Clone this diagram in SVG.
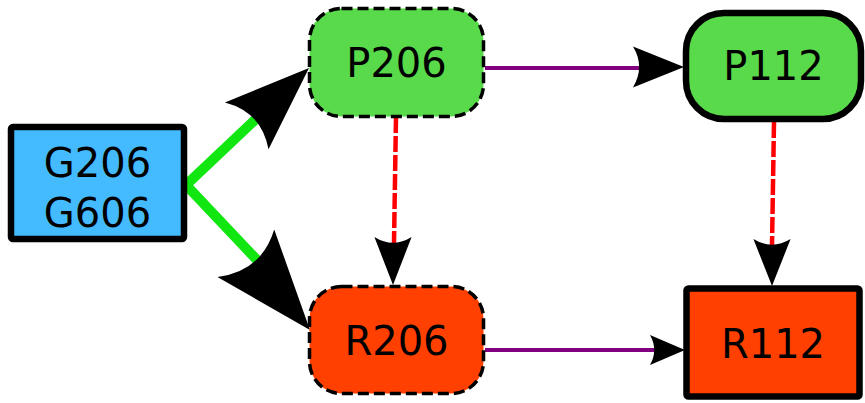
<svg xmlns="http://www.w3.org/2000/svg" xmlns:xlink="http://www.w3.org/1999/xlink" width="865" height="403" viewBox="0 0 865 403">
<style>
  .lbl { font-family: "DejaVu Sans", "Liberation Sans", sans-serif; font-size: 40px; fill: #000; text-anchor: middle; }
  .dashnode { stroke: #000; stroke-width: 3.5; stroke-dasharray: 11,5; }
  .solidnode { stroke: #000; stroke-width: 6.5; }
  .green { fill: #58da4a; }
  .red { fill: #ff4000; }
  .blue { fill: #45bbff; }
  .gline { stroke: #11e611; stroke-width: 10; fill: none; }
  .pline { stroke: #800080; stroke-width: 4; fill: none; }
  .rline { stroke: #ff0000; stroke-width: 4.5; fill: none; stroke-dasharray: 16,3; }
  .head { fill: #000; }
</style>
<defs>
  <path id="arrow" d="M0,0 L-50,-20 Q-38,0 -50,20 Z"/>
</defs>
<g id="connectors">
  <path class="gline" d="M256,119 L186,185 L257,260" stroke-linejoin="miter"/>
  <use xlink:href="#arrow" class="head" transform="translate(309,68) rotate(-42.9) scale(1.7,1.6)"/>
  <use xlink:href="#arrow" class="head" transform="translate(310,330) rotate(50.1) scale(2,1.85)"/>
  <path class="pline" d="M485,68 L640,68"/>
  <use xlink:href="#arrow" class="head" transform="translate(684,67) scale(1.02)"/>
  <path class="pline" d="M485,350 L658,350"/>
  <use xlink:href="#arrow" class="head" transform="translate(685,350) scale(0.7,0.75)"/>
  <path class="rline" d="M396,117 L394,243"/>
  <use xlink:href="#arrow" class="head" transform="translate(393,285) rotate(90) scale(0.96,0.93)"/>
  <path class="rline" d="M774,122 L772,246"/>
  <use xlink:href="#arrow" class="head" transform="translate(772,286) rotate(90) scale(0.94,0.93)"/>
</g>
<g id="G206_G606">
  <rect class="blue solidnode" x="11" y="127" width="173" height="112" rx="2" stroke-width="7"/>
  <text class="lbl" x="97.5" y="177">G206</text>
  <text class="lbl" x="97.5" y="227">G606</text>
</g>
<g id="P206">
  <rect class="green dashnode" x="309.5" y="8.5" width="174" height="108" rx="32"/>
  <text class="lbl" x="396.5" y="77">P206</text>
</g>
<g id="R206">
  <rect class="red dashnode" x="309.5" y="286.5" width="174" height="107" rx="32"/>
  <text class="lbl" x="396.5" y="355">R206</text>
</g>
<g id="P112">
  <rect class="green solidnode" x="686" y="13" width="175" height="106" rx="38"/>
  <text class="lbl" x="773.5" y="80">P112</text>
</g>
<g id="R112">
  <rect class="red solidnode" x="686.5" y="288.5" width="173" height="108" rx="2"/>
  <text class="lbl" x="773" y="358">R112</text>
</g>
</svg>
